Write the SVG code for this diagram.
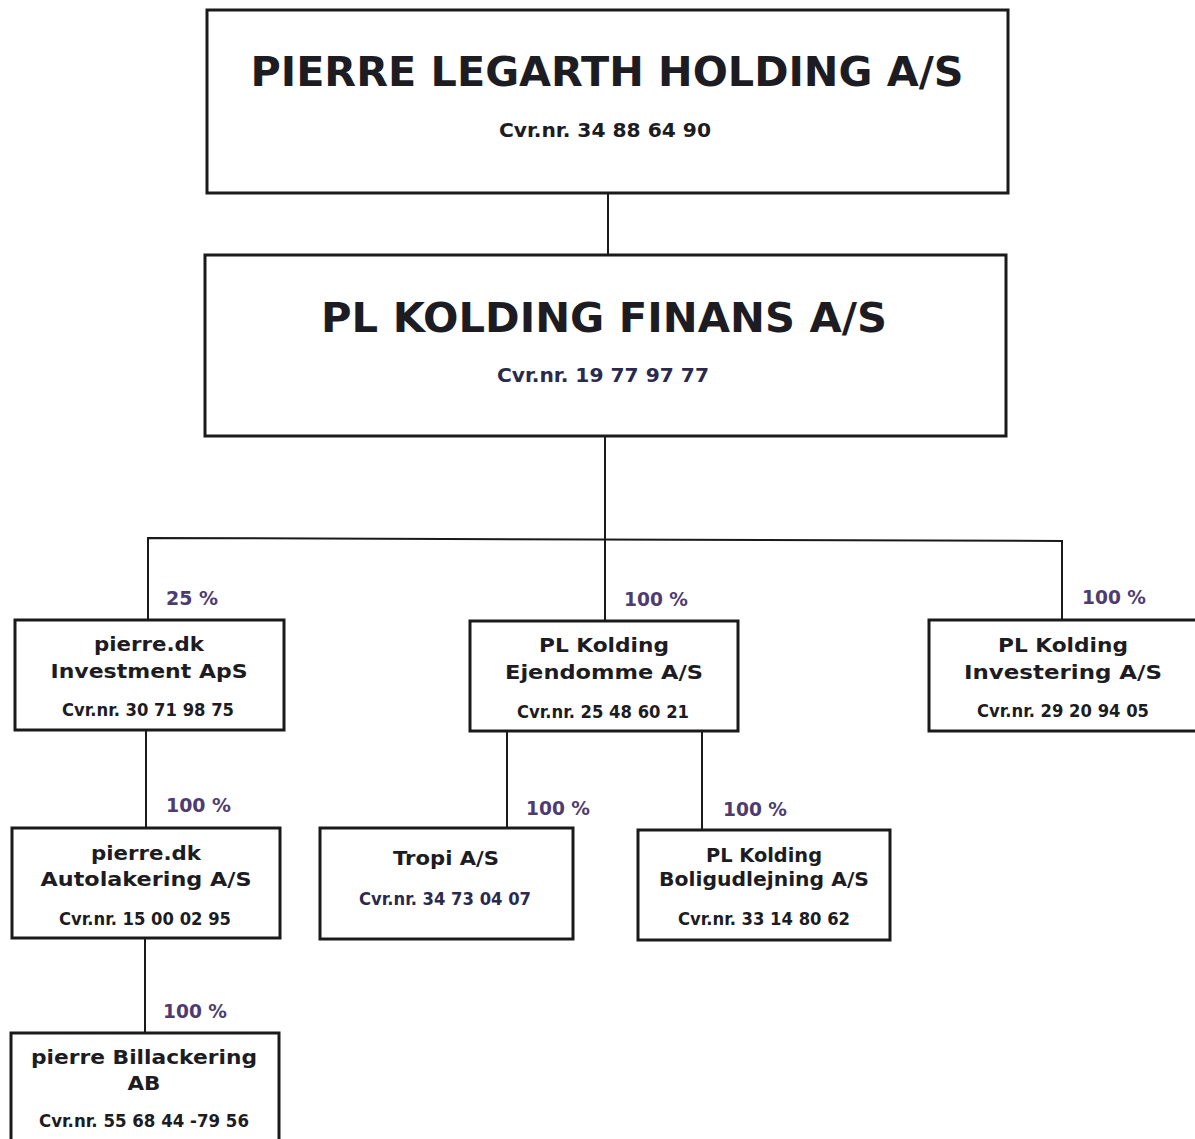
<svg xmlns="http://www.w3.org/2000/svg" width="1195" height="1139" viewBox="0 0 1195 1139">
<style>
.box{fill:#fff;stroke:#1a1a1a;stroke-width:3}
.t{font-family:"DejaVu Sans",Verdana,sans-serif;font-weight:bold;fill:#1c1c22;text-anchor:middle}
.big{font-size:40px}
.nm{font-size:20px}
.cvr{font-family:"DejaVu Sans Condensed","DejaVu Sans",sans-serif;font-weight:bold;font-size:17px;fill:#1c1c22;text-anchor:middle}
.cvrb{font-size:20px}
.navy{fill:#2a2a4e}
.pct{font-family:"DejaVu Sans",Verdana,sans-serif;font-weight:bold;font-size:19px;fill:#4e3c70}
.ln{stroke:#1a1a1a;stroke-width:2;fill:none}
</style>
<rect width="1195" height="1139" fill="#fff"/>
<g id="connectors">
<line class="ln" x1="608" y1="193" x2="608" y2="255"/>
<line class="ln" x1="605" y1="436" x2="605" y2="620"/>
<polyline class="ln" points="148,621 148,538 1062,541 1062,621"/>
<line class="ln" x1="146" y1="730" x2="146" y2="828"/>
<line class="ln" x1="507" y1="731" x2="507" y2="829"/>
<line class="ln" x1="702" y1="731" x2="702" y2="830"/>
<line class="ln" x1="145" y1="938" x2="145" y2="1033"/>
<text class="pct" x="166" y="605" textLength="52" lengthAdjust="spacingAndGlyphs">25 %</text>
<text class="pct" x="624" y="606" textLength="64" lengthAdjust="spacingAndGlyphs">100 %</text>
<text class="pct" x="1082" y="604" textLength="64" lengthAdjust="spacingAndGlyphs">100 %</text>
<text class="pct" x="166" y="812" textLength="65" lengthAdjust="spacingAndGlyphs">100 %</text>
<text class="pct" x="526" y="815" textLength="64" lengthAdjust="spacingAndGlyphs">100 %</text>
<text class="pct" x="723" y="816" textLength="64" lengthAdjust="spacingAndGlyphs">100 %</text>
<text class="pct" x="163" y="1018" textLength="64" lengthAdjust="spacingAndGlyphs">100 %</text>
</g>
<g id="holding">
<rect class="box" x="207" y="10" width="801" height="183"/>
<text class="t big" x="607" y="86" textLength="713" lengthAdjust="spacingAndGlyphs">PIERRE LEGARTH HOLDING A/S</text>
<text class="cvr cvrb" x="605" y="137" textLength="212" lengthAdjust="spacingAndGlyphs">Cvr.nr. 34 88 64 90</text>
</g>
<g id="finans">
<rect class="box" x="205" y="255" width="801" height="181"/>
<text class="t big" x="604" y="332" textLength="566" lengthAdjust="spacingAndGlyphs">PL KOLDING FINANS A/S</text>
<text class="cvr cvrb navy" x="603" y="382" textLength="212" lengthAdjust="spacingAndGlyphs">Cvr.nr. 19 77 97 77</text>
</g>
<g id="investment">
<rect class="box" x="15" y="620" width="269" height="110"/>
<text class="t nm" x="149" y="651" textLength="110" lengthAdjust="spacingAndGlyphs">pierre.dk</text>
<text class="t nm" x="149" y="678" textLength="197" lengthAdjust="spacingAndGlyphs">Investment ApS</text>
<text class="cvr" x="148" y="716" textLength="172" lengthAdjust="spacingAndGlyphs">Cvr.nr. 30 71 98 75</text>
</g>
<g id="ejendomme">
<rect class="box" x="470" y="621" width="268" height="110"/>
<text class="t nm" x="604" y="652" textLength="130" lengthAdjust="spacingAndGlyphs">PL Kolding</text>
<text class="t nm" x="604" y="679" textLength="198" lengthAdjust="spacingAndGlyphs">Ejendomme A/S</text>
<text class="cvr" x="603" y="718" textLength="172" lengthAdjust="spacingAndGlyphs">Cvr.nr. 25 48 60 21</text>
</g>
<g id="investering">
<rect class="box" x="929" y="620" width="270" height="111"/>
<text class="t nm" x="1063" y="652" textLength="130" lengthAdjust="spacingAndGlyphs">PL Kolding</text>
<text class="t nm" x="1063" y="679" textLength="198" lengthAdjust="spacingAndGlyphs">Investering A/S</text>
<text class="cvr" x="1063" y="717" textLength="172" lengthAdjust="spacingAndGlyphs">Cvr.nr. 29 20 94 05</text>
</g>
<g id="autolakering">
<rect class="box" x="12" y="828" width="268" height="110"/>
<text class="t nm" x="146" y="860" textLength="110" lengthAdjust="spacingAndGlyphs">pierre.dk</text>
<text class="t nm" x="146" y="886" textLength="211" lengthAdjust="spacingAndGlyphs">Autolakering A/S</text>
<text class="cvr" x="145" y="925" textLength="172" lengthAdjust="spacingAndGlyphs">Cvr.nr. 15 00 02 95</text>
</g>
<g id="tropi">
<rect class="box" x="320" y="828" width="253" height="111"/>
<text class="t nm" x="446" y="865" textLength="106" lengthAdjust="spacingAndGlyphs">Tropi A/S</text>
<text class="cvr navy" x="445" y="905" textLength="172" lengthAdjust="spacingAndGlyphs">Cvr.nr. 34 73 04 07</text>
</g>
<g id="boligudlejning">
<rect class="box" x="638" y="830" width="252" height="110"/>
<text class="t nm" x="764" y="862" textLength="116" lengthAdjust="spacingAndGlyphs">PL Kolding</text>
<text class="t nm" x="764" y="886" textLength="210" lengthAdjust="spacingAndGlyphs">Boligudlejning A/S</text>
<text class="cvr" x="764" y="925" textLength="172" lengthAdjust="spacingAndGlyphs">Cvr.nr. 33 14 80 62</text>
</g>
<g id="billackering">
<rect class="box" x="11" y="1033" width="268" height="110"/>
<text class="t nm" x="144" y="1064" textLength="226" lengthAdjust="spacingAndGlyphs">pierre Billackering</text>
<text class="t nm" x="144" y="1090" textLength="33" lengthAdjust="spacingAndGlyphs">AB</text>
<text class="cvr" x="144" y="1127" textLength="210" lengthAdjust="spacingAndGlyphs">Cvr.nr. 55 68 44 -79 56</text>
</g>
</svg>
